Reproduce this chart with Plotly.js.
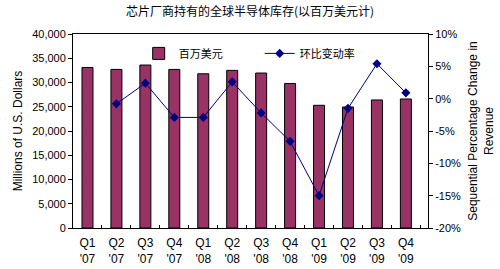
<!DOCTYPE html>
<html><head><meta charset="utf-8">
<script src="https://cdn.plot.ly/plotly-3.0.1.min.js"></script>
<style>html,body{margin:0;padding:0;background:#fff}#c{width:500px;height:269px}</style>
</head><body><div id="c"></div>
<script>
const categories = ["Q1<br>'07","Q2<br>'07","Q3<br>'07","Q4<br>'07","Q1<br>'08","Q2<br>'08","Q3<br>'08","Q4<br>'08","Q1<br>'09","Q2<br>'09","Q3<br>'09","Q4<br>'09"];
const inventory = [33100, 32700, 33600, 32700, 31800, 32500, 31950, 29800, 25300, 24950, 26400, 26600];
const changeCats = categories.slice(1);
const changePct = [-0.8, 2.4, -2.9, -2.9, 2.6, -2.2, -6.6, -15.0, -1.5, 5.4, 0.9];
const leftTicks = [0,5000,10000,15000,20000,25000,30000,35000,40000];
const rightTicks = [-20,-15,-10,-5,0,5,10];

const font = {family:"Liberation Sans, Arial, sans-serif", size:11, color:"#000"};
const data = [
  {type:"bar", x:categories, y:inventory, name:"百万美元",
   marker:{color:"#993366", line:{color:"#000", width:1}}, yaxis:"y"},
  {type:"scatter", mode:"lines+markers", x:changeCats, y:changePct, name:"环比变动率",
   line:{color:"#000080", width:1}, marker:{symbol:"diamond", size:7, color:"#000080"}, yaxis:"y2"}
];
const layout = {
  width:500, height:269,
  margin:{l:73, r:72, t:34, b:41},
  paper_bgcolor:"#fff", plot_bgcolor:"#fff",
  font:font,
  bargap:0.62,
  title:{text:"芯片厂商持有的全球半导体库存(以百万美元计)", font:{family:"Noto Sans CJK SC", size:12, color:"#000"}, x:0.5, xanchor:"center", y:0.955, yanchor:"middle"},
  xaxis:{type:"category", showline:true, linecolor:"#000", linewidth:1, mirror:true,
    ticks:"inside", tickson:"boundaries", ticklen:3, tickcolor:"#000", ticklabelstandoff:4,
    tickfont:{family:"Liberation Sans, Arial", size:12, color:"#000"}, showgrid:false, fixedrange:true},
  yaxis:{range:[0,40000], tickvals:leftTicks, ticktext:leftTicks.map(v=>v.toLocaleString("en-US")),
    showline:true, linecolor:"#000", ticks:"outside", ticklen:4, tickcolor:"#000", showgrid:false, zeroline:false,
    tickfont:{family:"Liberation Sans, Arial", size:11, color:"#000"},
    title:{text:"Millions of U.S. Dollars", font:{family:"Liberation Sans, Arial", size:12, color:"#000"}, standoff:6}},
  yaxis2:{range:[-20,10], overlaying:"y", side:"right", tickvals:rightTicks, ticktext:rightTicks.map(v=>v+"%"),
    showline:true, linecolor:"#000", ticks:"outside", ticklen:4, tickcolor:"#000", showgrid:false, zeroline:false,
    tickfont:{family:"Liberation Sans, Arial", size:11, color:"#000"},
    title:{text:"Sequential Percentage Change in<br>Revenue", font:{family:"Liberation Sans, Arial", size:12, color:"#000"}, standoff:8}},
  showlegend:true,
  legend:{orientation:"h", x:0.185, y:0.9, xanchor:"left", yanchor:"middle", bgcolor:"rgba(0,0,0,0)",
    font:{family:"Noto Sans CJK SC", size:11, color:"#000"}, tracegroupgap:0, entrywidthmode:"pixels", entrywidth:76}
};
Plotly.newPlot("c", data, layout, {staticPlot:true, displayModeBar:false});
</script></body></html>
